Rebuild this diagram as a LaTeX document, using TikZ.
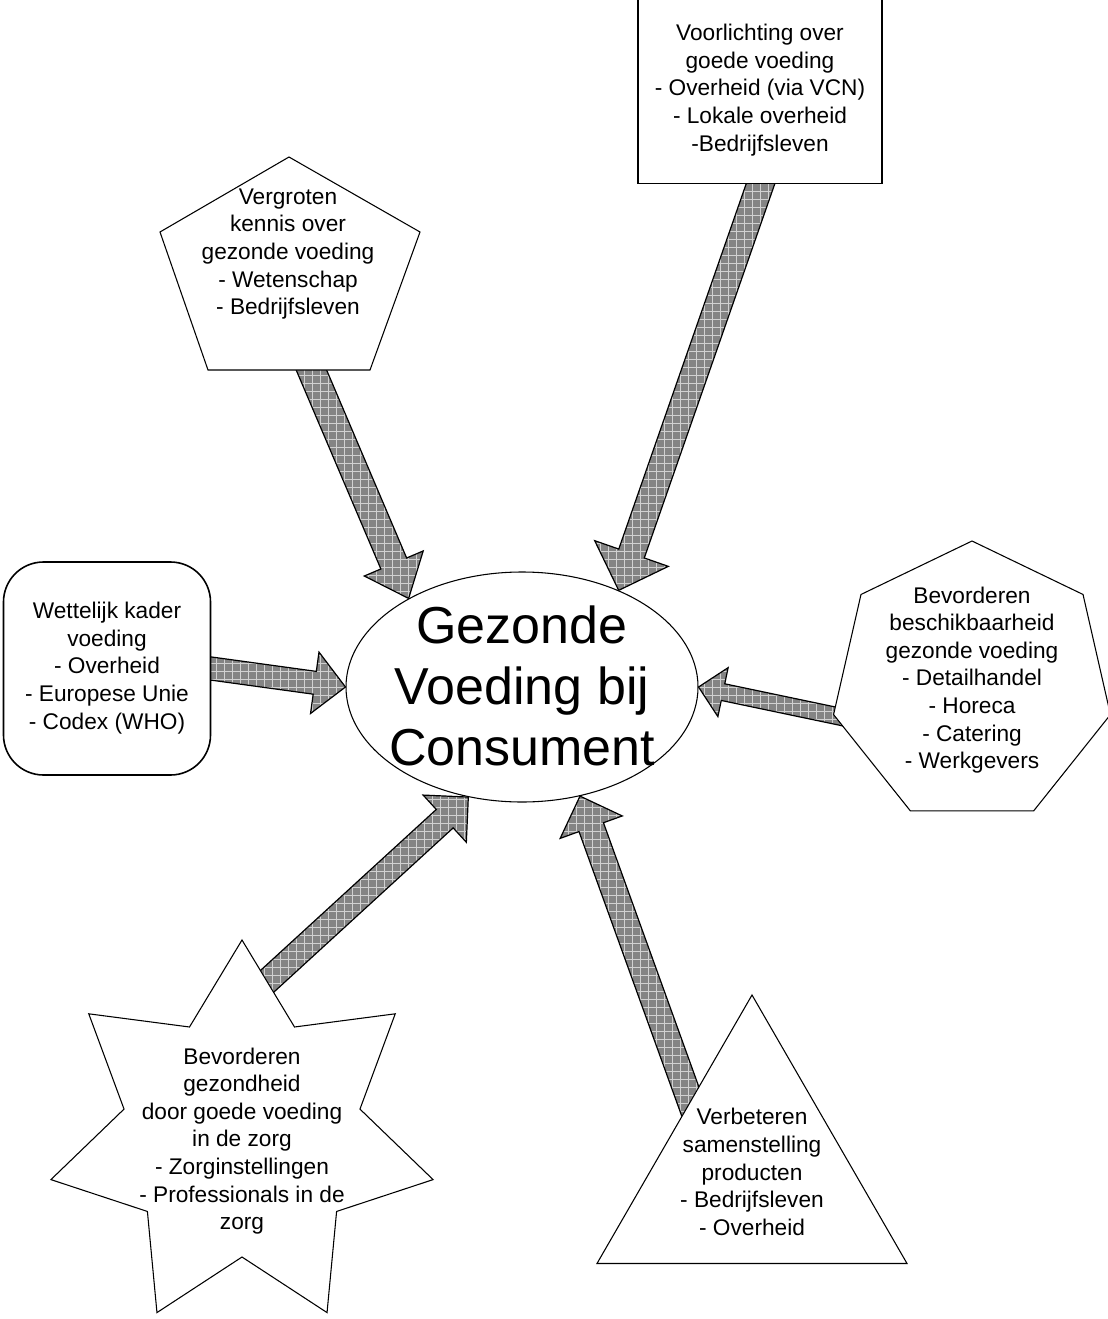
\documentclass[tikz,border=0pt]{standalone}
\usepackage{fontspec}
\setmainfont{Liberation Sans}
\usetikzlibrary{calc,shapes.geometric,shapes.misc,patterns.meta,backgrounds}
\definecolor{arrowgray}{RGB}{132,132,132}
\newcommand\blockarrow[5]{%
  \coordinate (hb) at ($(#2)!#5*0.75pt!(#1)$);
  \draw[bigarrow] ($(#1)!#3*0.75pt!90:(#2)$) -- ($(hb)!#3*0.75pt!-90:(#1)$) -- ($(hb)!#4*0.75pt!-90:(#1)$) -- (#2) -- ($(hb)!#4*0.75pt!90:(#1)$) -- ($(hb)!#3*0.75pt!90:(#1)$) -- ($(#1)!#3*0.75pt!-90:(#2)$) -- cycle;}
\begin{document}
\begin{tikzpicture}[x=0.75pt,y=-0.75pt,
  shapebox/.style={draw=black, line width=0.8pt, fill=white, inner sep=0pt},
  lbl/.style={align=center, font=\fontsize{17}{20.7}\selectfont, inner sep=0pt},
  biglbl/.style={align=center, font=\fontsize{39}{46}\selectfont, inner sep=0pt},
  bigarrow/.style={draw=black, line width=0.9pt, line join=miter,
    preaction={fill=arrowgray},
    preaction={pattern={Lines[angle=0,distance=6pt,line width=0.4pt]}, pattern color=white!82!black},
    preaction={pattern={Lines[angle=90,distance=6pt,line width=0.4pt]}, pattern color=white!82!black}}
]
\useasboundingbox (0,0) rectangle (1107,1319);

% central ellipse
\node[shapebox, ellipse, minimum width=352*0.75pt, minimum height=230*0.75pt] (E) at (522,687) {};
\node[biglbl] (Et) at (522,686) {Gezonde\\Voeding bij\\Consument};

% top rectangle
\node[shapebox, rectangle, minimum width=244*0.75pt, minimum height=187*0.75pt] (R) at (760,90) {};
\node[lbl] (Rt) at (760,90) {Voorlichting over\\goede voeding\\- Overheid (via VCN)\\- Lokale overheid\\-Bedrijfsleven};

% pentagon
\draw[shapebox] (289,157) -- (160,232) -- (208,370) -- (370,370) -- (420,232) -- cycle;
\node[lbl] (Pt) at (288,254) {Vergroten\\kennis over\\gezonde voeding\\- Wetenschap\\- Bedrijfsleven};

% rounded rectangle
\node[shapebox, rectangle, rounded corners=30pt, line width=1.2pt, minimum width=207*0.75pt, minimum height=213*0.75pt] (L) at (107,668.5) {};
\node[lbl] (Lt) at (107,668) {Wettelijk kader\\voeding\\- Overheid\\- Europese Unie\\- Codex (WHO)};

% heptagon
\node[shapebox, regular polygon, regular polygon sides=7, minimum size=284*0.75pt] (H) at (972,683) {};
\node[lbl] (Ht) at (972,680) {Bevorderen\\beschikbaarheid\\gezonde voeding\\- Detailhandel\\- Horeca\\- Catering\\- Werkgevers};

% star
\node[shapebox, star, star points=7, star point ratio=1.62, minimum size=392*0.75pt] (S) at (242,1136) {};
\node[lbl] (St) at (242,1141) {Bevorderen\\gezondheid\\door goede voeding\\in de zorg\\- Zorginstellingen\\- Professionals in de\\zorg};

% triangle
\node[shapebox, regular polygon, regular polygon sides=3, minimum size=358*0.75pt] (T) at (752,1174) {};
\node[lbl] (Tt) at (752,1172) {Verbeteren\\samenstelling\\producten\\- Bedrijfsleven\\- Overheid};

% arrow tails
\coordinate (tA) at (766,168);
\coordinate (tB) at (305,355);
\coordinate (tC) at (200,667);
\coordinate (tD) at (856,720);
\coordinate (tE) at (250,997);
\coordinate (tF) at (697,1120);

\begin{scope}[on background layer]
\blockarrow{tA}{E.45.3}{13.5}{39}{39}
\blockarrow{tB}{E.142}{14}{32}{38}
\blockarrow{tC}{E.180}{11.5}{31}{31}
\blockarrow{tD}{E.0}{8.5}{25}{25}
\blockarrow{tE}{E.244.3}{12.5}{32}{32}
\blockarrow{tF}{E.298.4}{13}{33}{33}
\end{scope}
\end{tikzpicture}
\end{document}
